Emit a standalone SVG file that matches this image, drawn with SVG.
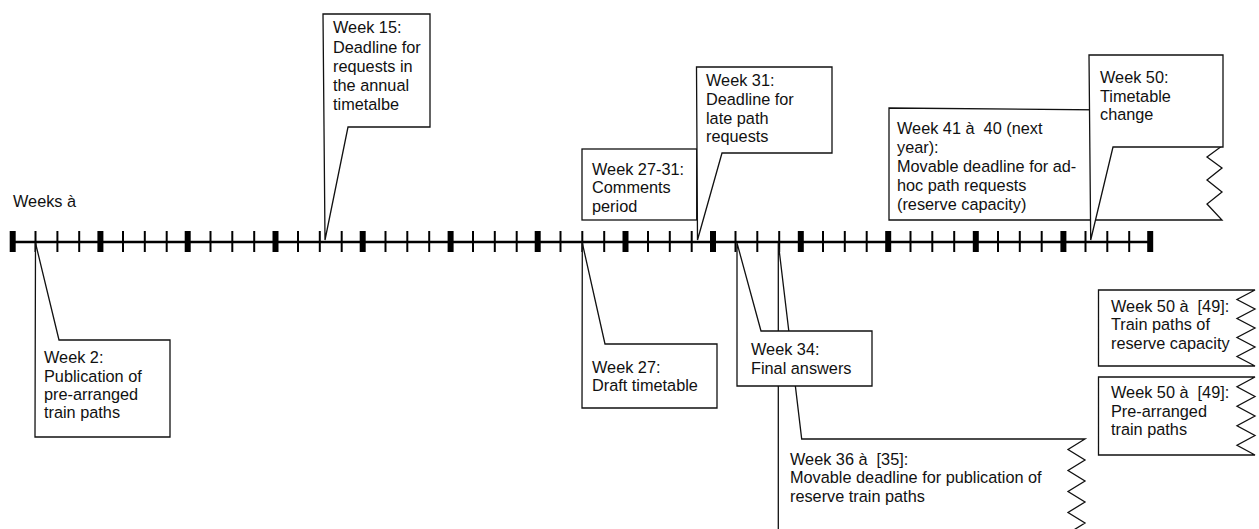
<svg xmlns="http://www.w3.org/2000/svg" width="1259" height="529" viewBox="0 0 1259 529">
<style>
  .box { fill: #ffffff; stroke: #111111; stroke-width: 1.3; stroke-linejoin: miter; }
  .t { font-family: "Liberation Sans", Arial, sans-serif; font-size: 16.3px; fill: #111111; white-space: pre; }
  .axis { stroke: #000000; stroke-width: 2.5; fill: none; }
  .tk { stroke: #000000; stroke-width: 2; }
  .tkb { stroke: #000000; stroke-width: 6; }
</style>
<rect x="0" y="0" width="1259" height="529" fill="#ffffff"/>

<g id="timeline">
  <line class="axis" x1="10" y1="242" x2="1153" y2="242"/>
  <g id="major-ticks">
    <line class="tkb" x1="12.7" y1="231" x2="12.7" y2="252"/>
    <line class="tkb" x1="100.4" y1="231" x2="100.4" y2="252"/>
    <line class="tkb" x1="187.7" y1="231" x2="187.7" y2="252"/>
    <line class="tkb" x1="275.5" y1="231" x2="275.5" y2="252"/>
    <line class="tkb" x1="362.7" y1="231" x2="362.7" y2="252"/>
    <line class="tkb" x1="450.6" y1="231" x2="450.6" y2="252"/>
    <line class="tkb" x1="537.7" y1="231" x2="537.7" y2="252"/>
    <line class="tkb" x1="625.5" y1="231" x2="625.5" y2="252"/>
    <line class="tkb" x1="713" y1="231" x2="713" y2="252"/>
    <line class="tkb" x1="800.8" y1="231" x2="800.8" y2="252"/>
    <line class="tkb" x1="888.2" y1="231" x2="888.2" y2="252"/>
    <line class="tkb" x1="975.8" y1="231" x2="975.8" y2="252"/>
    <line class="tkb" x1="1063.4" y1="231" x2="1063.4" y2="252"/>
    <line class="tkb" x1="1150.2" y1="231" x2="1150.2" y2="252"/>
  </g>
  <g id="minor-ticks">
    <line class="tk" x1="35.5" y1="231" x2="35.5" y2="252"/>
    <line class="tk" x1="57.4" y1="231" x2="57.4" y2="252"/>
    <line class="tk" x1="79.2" y1="231" x2="79.2" y2="252"/>
    <line class="tk" x1="123" y1="231" x2="123" y2="252"/>
    <line class="tk" x1="144.8" y1="231" x2="144.8" y2="252"/>
    <line class="tk" x1="166.7" y1="231" x2="166.7" y2="252"/>
    <line class="tk" x1="210.5" y1="231" x2="210.5" y2="252"/>
    <line class="tk" x1="232.3" y1="231" x2="232.3" y2="252"/>
    <line class="tk" x1="254.2" y1="231" x2="254.2" y2="252"/>
    <line class="tk" x1="298" y1="231" x2="298" y2="252"/>
    <line class="tk" x1="319.8" y1="231" x2="319.8" y2="252"/>
    <line class="tk" x1="341.7" y1="231" x2="341.7" y2="252"/>
    <line class="tk" x1="385.5" y1="231" x2="385.5" y2="252"/>
    <line class="tk" x1="407.3" y1="231" x2="407.3" y2="252"/>
    <line class="tk" x1="429.2" y1="231" x2="429.2" y2="252"/>
    <line class="tk" x1="473" y1="231" x2="473" y2="252"/>
    <line class="tk" x1="494.8" y1="231" x2="494.8" y2="252"/>
    <line class="tk" x1="516.7" y1="231" x2="516.7" y2="252"/>
    <line class="tk" x1="560.5" y1="231" x2="560.5" y2="252"/>
    <line class="tk" x1="582.3" y1="231" x2="582.3" y2="252"/>
    <line class="tk" x1="604.2" y1="231" x2="604.2" y2="252"/>
    <line class="tk" x1="648" y1="231" x2="648" y2="252"/>
    <line class="tk" x1="669.8" y1="231" x2="669.8" y2="252"/>
    <line class="tk" x1="691.7" y1="231" x2="691.7" y2="252"/>
    <line class="tk" x1="735.5" y1="231" x2="735.5" y2="252"/>
    <line class="tk" x1="757.3" y1="231" x2="757.3" y2="252"/>
    <line class="tk" x1="779.2" y1="231" x2="779.2" y2="252"/>
    <line class="tk" x1="823" y1="231" x2="823" y2="252"/>
    <line class="tk" x1="844.8" y1="231" x2="844.8" y2="252"/>
    <line class="tk" x1="866.7" y1="231" x2="866.7" y2="252"/>
    <line class="tk" x1="910.5" y1="231" x2="910.5" y2="252"/>
    <line class="tk" x1="932.3" y1="231" x2="932.3" y2="252"/>
    <line class="tk" x1="954.2" y1="231" x2="954.2" y2="252"/>
    <line class="tk" x1="998" y1="231" x2="998" y2="252"/>
    <line class="tk" x1="1019.8" y1="231" x2="1019.8" y2="252"/>
    <line class="tk" x1="1041.7" y1="231" x2="1041.7" y2="252"/>
    <line class="tk" x1="1085.5" y1="231" x2="1085.5" y2="252"/>
    <line class="tk" x1="1107.3" y1="231" x2="1107.3" y2="252"/>
    <line class="tk" x1="1129.2" y1="231" x2="1129.2" y2="252"/>
  </g>
  <text class="t" x="13" y="206.5">Weeks à</text>
</g>

<g id="connectors"></g>

<g id="week15">
  <path class="box" d="M323,14 L430,14 L430,127 L348,127 L325,240 Z"/>
  <text class="t"><tspan x="333" y="33.3">Week 15:</tspan><tspan x="333" y="52.5">Deadline for</tspan><tspan x="333" y="71.7">requests in</tspan><tspan x="333" y="90.9">the annual</tspan><tspan x="333" y="110">timetalbe</tspan></text>
</g>

<g id="week27-31">
  <rect class="box" x="582" y="149" width="114.7" height="71"/>
  <text class="t"><tspan x="592" y="175">Week 27-31:</tspan><tspan x="592" y="193.3">Comments</tspan><tspan x="592" y="211.6">period</tspan></text>
</g>

<g id="week31">
  <path class="box" d="M696.5,67 L832,67 L832,153 L722,153 L697.5,240 Z"/>
  <text class="t"><tspan x="706" y="86">Week 31:</tspan><tspan x="706" y="104.8">Deadline for</tspan><tspan x="706" y="123.6">late path</tspan><tspan x="706" y="142.4">requests</tspan></text>
</g>

<g id="week41">
  <path class="box" d="M889,108 L1222,111 L1222,146 L1207,157 L1222,168 L1207,180 L1222,192 L1207,204 L1222,220 L889,220 Z"/>
  <text class="t"><tspan x="897" y="134">Week 41 à  40 (next</tspan><tspan x="897" y="153">year):</tspan><tspan x="897" y="172">Movable deadline for ad-</tspan><tspan x="897" y="191">hoc path requests</tspan><tspan x="897" y="210">(reserve capacity)</tspan></text>
</g>

<g id="week50">
  <path class="box" d="M1089,55 L1223,55 L1223,147 L1113,147 L1090.7,240 Z"/>
  <text class="t"><tspan x="1100" y="83.3">Week 50:</tspan><tspan x="1100" y="101.7">Timetable</tspan><tspan x="1100" y="120">change</tspan></text>
</g>

<g id="week2">
  <path class="box" d="M35.5,243 L59,340 L170,340 L170,437 L35,437 Z"/>
  <text class="t"><tspan x="44" y="363.3">Week 2:</tspan><tspan x="44" y="381.6">Publication of</tspan><tspan x="44" y="399.9">pre-arranged</tspan><tspan x="44" y="418.2">train paths</tspan></text>
</g>

<g id="week27">
  <path class="box" d="M582.3,243 L605,344 L717,344 L717,408 L582,408 Z"/>
  <text class="t"><tspan x="592" y="372.7">Week 27:</tspan><tspan x="592" y="391">Draft timetable</tspan></text>
</g>

<g id="week36">
  <path class="box" d="M778.3,243 L801.7,439 L1085,439 L1068,449.5 L1085,460 L1068,470.5 L1085,481 L1068,491.5 L1085,502 L1068,512.5 L1085,523 L1068,533.5 L1085,544 L1085,560 L778.3,560 Z"/>
  <text class="t"><tspan x="790" y="465">Week 36 à  [35]:</tspan><tspan x="790" y="483.3">Movable deadline for publication of</tspan><tspan x="790" y="501.6">reserve train paths</tspan></text>
</g>

<g id="week34">
  <path class="box" d="M737,243 L761,331 L872,331 L872,386 L737,386 Z"/>
  <text class="t"><tspan x="751" y="355">Week 34:</tspan><tspan x="751" y="374">Final answers</tspan></text>
</g>

<g id="week50-reserve">
  <path class="box" d="M1098.5,290 L1255,290 L1237,299.5 L1255,309 L1237,318.5 L1255,328 L1237,337.5 L1255,347 L1237,356.5 L1255,366 L1098.5,366 Z"/>
  <text class="t"><tspan x="1111" y="311.7">Week 50 à  [49]:</tspan><tspan x="1111" y="330">Train paths of</tspan><tspan x="1111" y="349.3">reserve capacity</tspan></text>
</g>

<g id="week50-prearranged">
  <path class="box" d="M1098.5,377 L1255,377 L1237,386.75 L1255,396.5 L1237,406.25 L1255,416 L1237,425.75 L1255,435.5 L1237,445.25 L1255,455 L1098.5,455 Z"/>
  <text class="t"><tspan x="1111" y="398.3">Week 50 à  [49]:</tspan><tspan x="1111" y="416.7">Pre-arranged</tspan><tspan x="1111" y="435">train paths</tspan></text>
</g>
</svg>
